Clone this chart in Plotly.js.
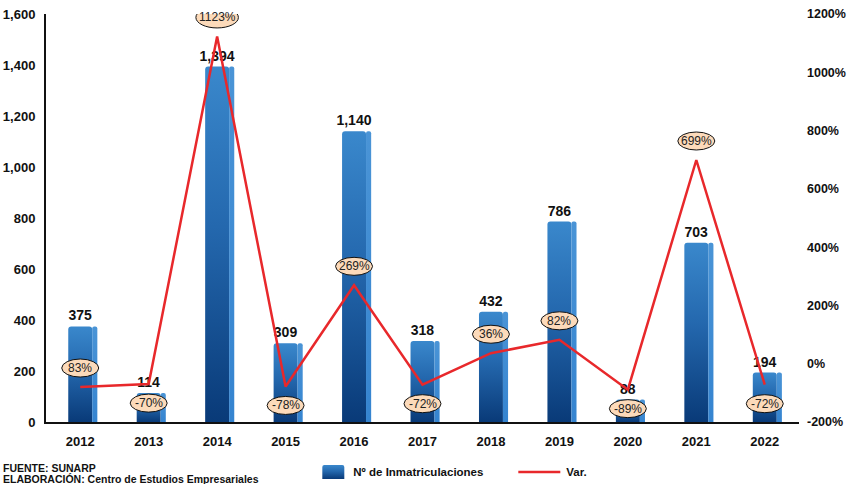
<!DOCTYPE html>
<html>
<head>
<meta charset="utf-8">
<script src="https://cdn.plot.ly/plotly-3.0.1.min.js"></script>
<style>
html,body{margin:0;padding:0;background:#fff;}
#chart{width:847px;height:484px;}
</style>
</head>
<body>
<div id="chart"></div>
<script>
// ---- data ----
var years = ["2012","2013","2014","2015","2016","2017","2018","2019","2020","2021","2022"];
var inmatriculaciones = [375, 114, 1394, 309, 1140, 318, 432, 786, 88, 703, 194];
// Var. line as drawn in the picture (%)
var varLine = [-80, -70, 1123, -78, 269, -72, 36, 82, -89, 699, -72];
// Var. labels as printed (%)
var varLabels = [83, -70, 1123, -78, 269, -72, 36, 82, -89, 699, -72];
var leftTicks = [0, 200, 400, 600, 800, 1000, 1200, 1400, 1600];
var rightTicks = [-200, 0, 200, 400, 600, 800, 1000, 1200];
var footerLines = ["FUENTE: SUNARP", "ELABORACIÓN: Centro de Estudios Empresariales"];

var FONT = "Liberation Sans, Arial, sans-serif";
var NARROW = "Liberation Sans Narrow, Arial Narrow, Liberation Sans, sans-serif";

var frontBars = {
  type: "bar", x: years, y: inmatriculaciones, name: "Nº de Inmatriculaciones",
  width: 0.35,
  marker: {color: "#1F5FA3", cornerradius: 3, line: {width: 0}},
  texttemplate: "%{y:,}", textposition: "outside", constraintext: "none",
  textfont: {family: FONT, size: 14, color: "#111", weight: "bold"},
  cliponaxis: false, hoverinfo: "skip"
};
var sideBars = {
  type: "bar", x: years, y: inmatriculaciones, showlegend: false,
  width: 0.075, offset: 0.175,
  marker: {color: "#3A86CE", cornerradius: 2, line: {width: 0}},
  hoverinfo: "skip"
};
var varTrace = {
  type: "scatter", mode: "lines", x: years, y: varLine, yaxis: "y2", name: "Var.",
  line: {color: "#E8282B", width: 2.5}, hoverinfo: "skip", cliponaxis: false
};

var shapes = [], annotations = [];
years.forEach(function(yr, i){
  var txt = varLabels[i] + "%";
  var w = Math.max(37, txt.length * 8.5);
  var h = txt.length >= 5 ? 21 : 18;
  var off = varLabels[i] >= 0 ? 19 : -19;
  shapes.push({
    type: "circle", xref: "x", yref: "y2", xsizemode: "pixel", ysizemode: "pixel",
    xanchor: i, yanchor: varLine[i],
    x0: -w/2, x1: w/2, y0: off - h/2, y1: off + h/2,
    fillcolor: "#FCDABA", line: {color: "#111", width: 1}, layer: "above"
  });
  annotations.push({
    xref: "x", yref: "y2", x: i, y: varLine[i], yshift: off, showarrow: false,
    text: txt, font: {family: FONT, size: 12, color: "#222"}
  });
});
footerLines.forEach(function(t, i){
  annotations.push({
    xref: "paper", yref: "paper", x: -0.0595, y: -0.113 - i*0.0265,
    xanchor: "left", yanchor: "middle", showarrow: false, align: "left",
    text: t, font: {family: NARROW, size: 10.5, color: "#111", weight: "bold"}
  });
});

var layout = {
  width: 847, height: 484,
  margin: {l: 46, r: 48, t: 14, b: 62, pad: 0, autoexpand: false},
  paper_bgcolor: "#fff", plot_bgcolor: "#fff",
  barmode: "overlay",
  showlegend: true,
  legend: {orientation: "h", x: 0.355, xanchor: "left", y: -0.1225, yanchor: "middle",
           font: {family: NARROW, size: 11.5, color: "#111", weight: "bold"},
           entrywidth: 168, entrywidthmode: "pixels", traceorder: "normal"},
  xaxis: {type: "category", range: [-0.5, 10.5], showline: true, linecolor: "#111", linewidth: 2,
          ticks: "", showgrid: false, zeroline: false,
          tickfont: {family: FONT, size: 13, color: "#111", weight: "bold"}, ticklabelstandoff: 6},
  yaxis: {range: [0, 1600], tickvals: leftTicks, tickformat: ",", showline: true, linecolor: "#111",
          linewidth: 2, showgrid: false, zeroline: false, ticks: "",
          tickfont: {family: FONT, size: 13, color: "#111", weight: "bold"}, ticklabelstandoff: 6},
  yaxis2: {overlaying: "y", side: "right", range: [-200, 1200], tickvals: rightTicks,
           ticktext: rightTicks.map(function(v){ return v + "%"; }),
           showline: false, showgrid: false, zeroline: false, ticks: "",
           tickfont: {family: FONT, size: 12.5, color: "#111", weight: "bold"}, ticklabelstandoff: 7},
  shapes: shapes,
  annotations: annotations
};

var gd = document.getElementById("chart");
Plotly.newPlot(gd, [frontBars, sideBars, varTrace], layout, {displayModeBar: false, staticPlot: true}).then(function(){
  var ns = "http://www.w3.org/2000/svg";
  var svg = gd.querySelector("svg.main-svg");
  var defs = svg.querySelector("defs");
  if (!defs) { defs = document.createElementNS(ns, "defs"); svg.insertBefore(defs, svg.firstChild); }
  function grad(id, stops){
    var g = document.createElementNS(ns, "linearGradient");
    g.setAttribute("id", id); g.setAttribute("x1", "0"); g.setAttribute("y1", "0");
    g.setAttribute("x2", "0"); g.setAttribute("y2", "1");
    stops.forEach(function(s){
      var st = document.createElementNS(ns, "stop");
      st.setAttribute("offset", s[0]); st.setAttribute("stop-color", s[1]);
      g.appendChild(st);
    });
    defs.appendChild(g);
  }
  grad("gFront", [["0", "#3A88CC"], ["0.45", "#2468AE"], ["1", "#093A78"]]);
  grad("gSide", [["0", "#4A94D6"], ["1", "#3584D0"]]);
  var traces = gd.querySelectorAll(".barlayer .trace");
  if (traces[0]) traces[0].querySelectorAll("path").forEach(function(p){ p.style.fill = "url(#gFront)"; });
  if (traces[1]) traces[1].querySelectorAll("path").forEach(function(p){ p.style.fill = "url(#gSide)"; });
  var leg = gd.querySelectorAll(".legend .traces");
  if (leg[0]) {
    var p = leg[0].querySelector(".legendpoints path");
    if (p) { p.setAttribute("d", "M-11,-7H9Q11,-7 11,-5V7H-11V-5Q-11,-7 -9,-7Z"); p.style.fill = "url(#gFront)"; p.style.stroke = "none"; }
  }
  if (leg[1]) {
    var l = leg[1].querySelector(".legendlines path");
    if (l) { l.setAttribute("d", "M-8,0h42"); }
  }
});
</script>
</body>
</html>
